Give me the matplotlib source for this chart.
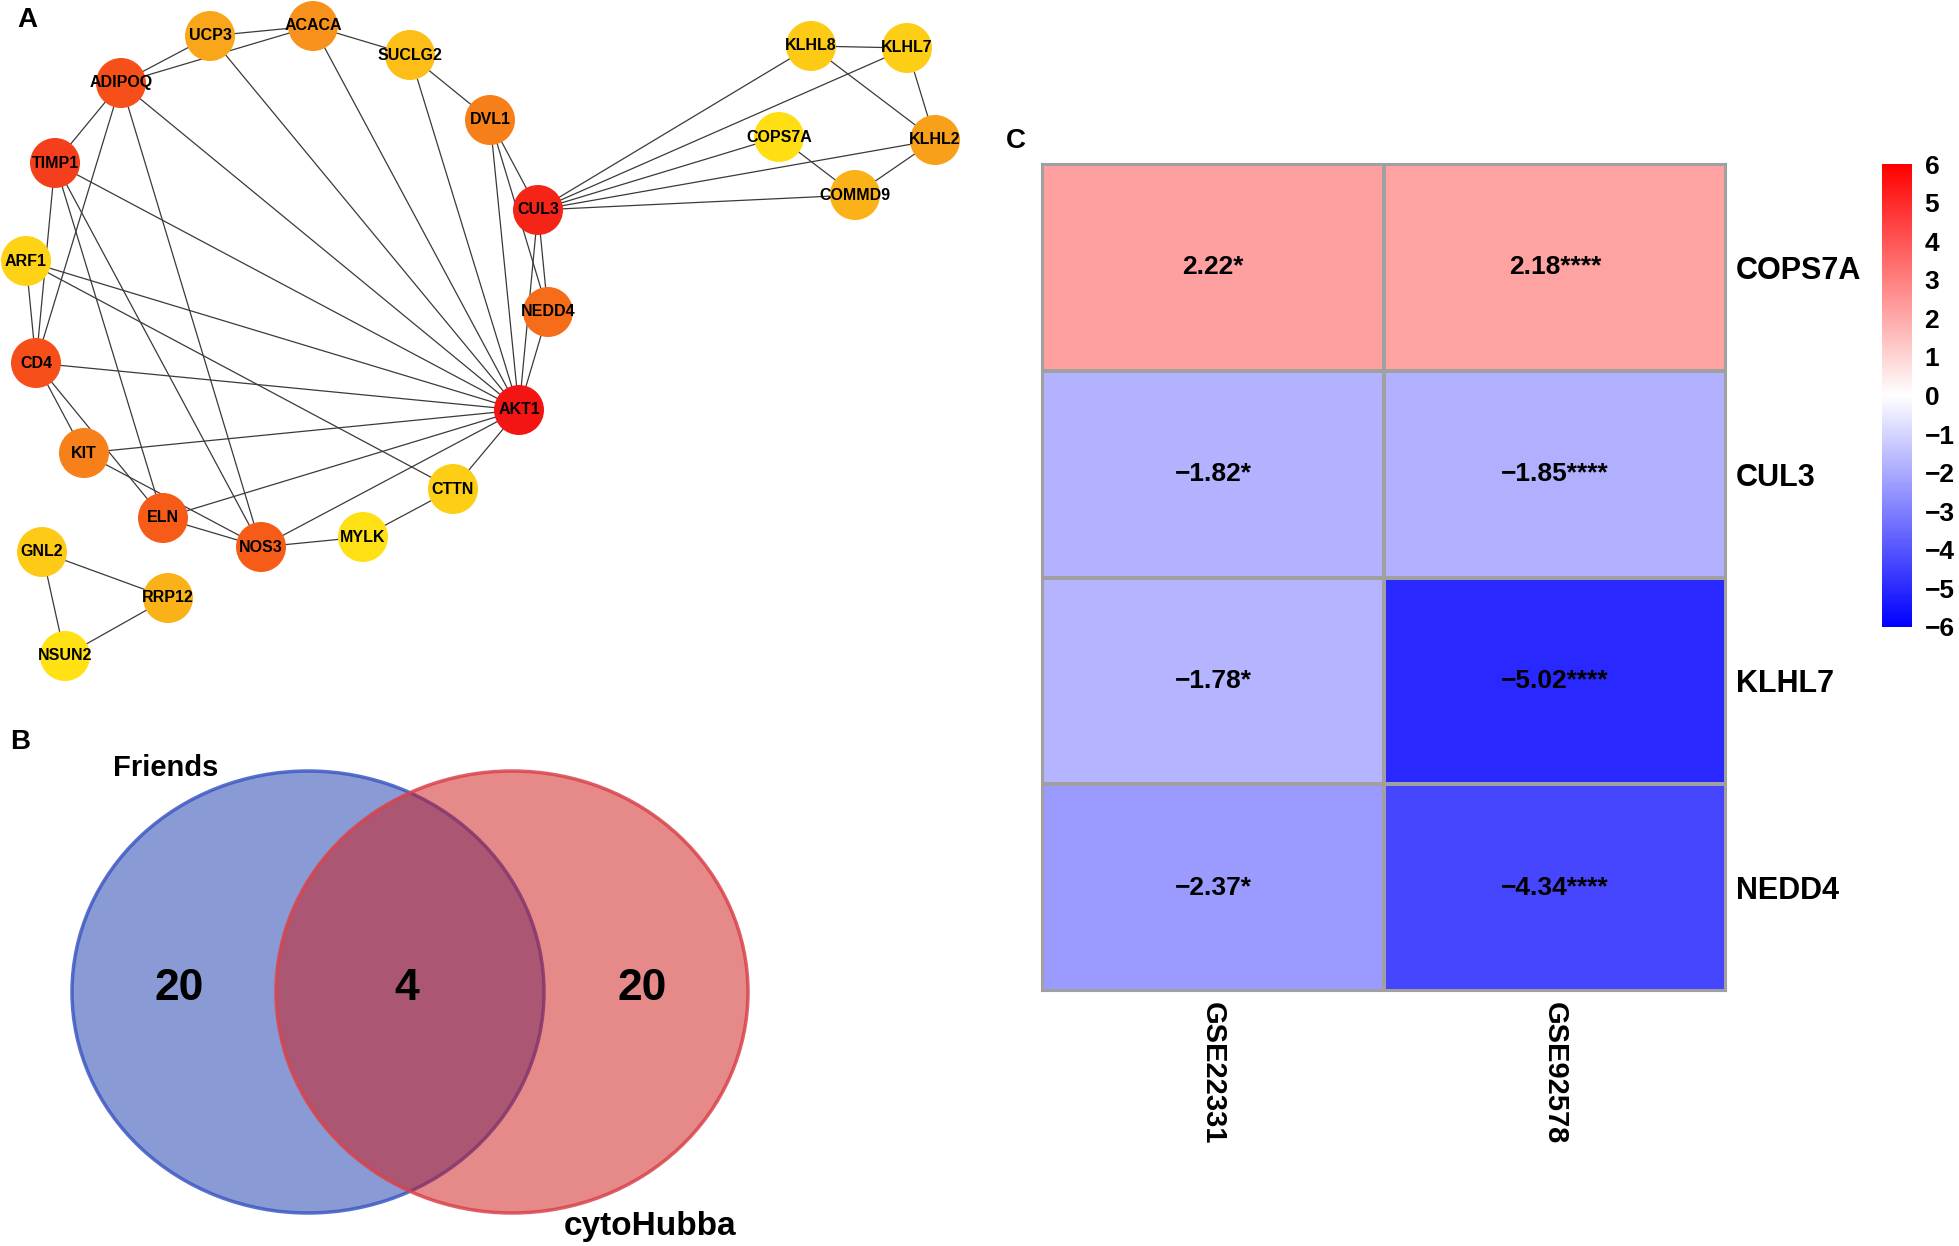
import matplotlib
matplotlib.use("Agg")
import numpy as np
import matplotlib.pyplot as plt
from matplotlib.colors import LinearSegmentedColormap
from matplotlib.patches import Circle, Ellipse

plt.rcParams["font.family"] = ["Liberation Sans", "DejaVu Sans"]
plt.rcParams["font.weight"] = "bold"

# ---- panel A: PPI network (cytoHubba score, 0 = low, 1 = high)
genes = ["UCP3", "ACACA", "SUCLG2", "ADIPOQ", "DVL1", "TIMP1", "CUL3", "ARF1",
         "NEDD4", "CD4", "AKT1", "KIT", "ELN", "NOS3", "MYLK", "CTTN",
         "GNL2", "RRP12", "NSUN2", "KLHL8", "KLHL7", "COPS7A", "KLHL2", "COMMD9"]
scores = [0.42, 0.52, 0.30, 0.84, 0.64, 0.90, 0.96, 0.15,
          0.72, 0.84, 1.00, 0.63, 0.79, 0.79, 0.04, 0.20,
          0.22, 0.36, 0.03, 0.22, 0.20, 0.05, 0.45, 0.36]
edges = [("UCP3", "ACACA"), ("UCP3", "ADIPOQ"), ("ADIPOQ", "ACACA"),
         ("ACACA", "SUCLG2"), ("SUCLG2", "DVL1"), ("UCP3", "AKT1"),
         ("ACACA", "AKT1"), ("SUCLG2", "AKT1"), ("ADIPOQ", "AKT1"),
         ("ADIPOQ", "TIMP1"), ("ADIPOQ", "CD4"), ("ADIPOQ", "NOS3"),
         ("TIMP1", "AKT1"), ("TIMP1", "CD4"), ("TIMP1", "ELN"), ("TIMP1", "NOS3"),
         ("ARF1", "CD4"), ("ARF1", "AKT1"), ("ARF1", "CTTN"),
         ("CD4", "AKT1"), ("CD4", "KIT"), ("CD4", "ELN"),
         ("KIT", "AKT1"), ("KIT", "NOS3"), ("ELN", "AKT1"), ("ELN", "NOS3"),
         ("NOS3", "AKT1"), ("NOS3", "MYLK"), ("MYLK", "CTTN"), ("CTTN", "AKT1"),
         ("DVL1", "CUL3"), ("DVL1", "AKT1"), ("DVL1", "NEDD4"),
         ("CUL3", "NEDD4"), ("CUL3", "AKT1"), ("NEDD4", "AKT1"),
         ("CUL3", "KLHL8"), ("CUL3", "KLHL7"), ("CUL3", "COPS7A"),
         ("CUL3", "KLHL2"), ("CUL3", "COMMD9"),
         ("KLHL8", "KLHL7"), ("KLHL8", "KLHL2"), ("KLHL7", "KLHL2"),
         ("KLHL2", "COMMD9"), ("COPS7A", "COMMD9"),
         ("GNL2", "RRP12"), ("GNL2", "NSUN2"), ("RRP12", "NSUN2")]

# ---- panel B: Venn counts
venn_names = ["Friends", "cytoHubba"]
venn_counts = [20, 4, 20]  # left only, shared, right only

# ---- panel C: heatmap
heat_genes = ["COPS7A", "CUL3", "KLHL7", "NEDD4"]
heat_sets = ["GSE22331", "GSE92578"]
logfc_gse22331 = [2.22, -1.82, -1.78, -2.37]
logfc_gse92578 = [2.18, -1.85, -5.02, -4.34]
stars_gse22331 = ["*", "*", "*", "*"]
stars_gse92578 = ["****", "****", "****", "****"]

# node layout in figure pixels (x, y from top)
layout = {
    "UCP3": (210, 36), "ACACA": (313, 26), "SUCLG2": (410, 55), "ADIPOQ": (121, 83),
    "DVL1": (490, 120), "TIMP1": (55, 163), "CUL3": (538, 210), "ARF1": (26, 261),
    "NEDD4": (548, 312), "CD4": (36, 363), "AKT1": (519, 410), "KIT": (84, 453),
    "ELN": (163, 518), "NOS3": (261, 547), "MYLK": (363, 537), "CTTN": (453, 489),
    "GNL2": (42, 552), "RRP12": (168, 598), "NSUN2": (65, 656),
    "KLHL8": (811, 46), "KLHL7": (907, 48), "COPS7A": (779, 137),
    "KLHL2": (935, 140), "COMMD9": (855, 195),
}

W, H = 1959, 1246
fig = plt.figure(figsize=(W / 100, H / 100), dpi=100)
ax = fig.add_axes([0, 0, 1, 1])
ax.set_xlim(0, W)
ax.set_ylim(H, 0)
ax.axis("off")

node_cmap = LinearSegmentedColormap.from_list(
    "hub", [(0.0, "#FFE414"), (0.25, "#FDC816"), (0.5, "#F8961C"),
            (0.65, "#F77D1A"), (0.8, "#F65A18"), (0.9, "#F5401C"), (1.0, "#F31414")])

for a, b in edges:
    (x1, y1), (x2, y2) = layout[a], layout[b]
    ax.plot([x1, x2], [y1, y2], color="#3a3a3a", lw=0.9, zorder=1)

for g, s in zip(genes, scores):
    x, y = layout[g]
    ax.add_patch(Circle((x, y), 25, facecolor=node_cmap(s), edgecolor="none", zorder=2))
    ax.text(x, y, g, ha="center", va="center", fontsize=11.5, zorder=3)

# Venn
left_c, right_c, rx, ry = (308, 992), (512, 992), 236, 221
ax.add_patch(Ellipse(left_c, 2 * rx, 2 * ry, facecolor="#1537AB", alpha=0.5,
                     edgecolor="none", zorder=1))
ax.add_patch(Ellipse(left_c, 2 * rx, 2 * ry, facecolor="none", edgecolor="#3D58C4",
                     lw=2.5, alpha=0.85, zorder=1))
ax.add_patch(Ellipse(right_c, 2 * rx, 2 * ry, facecolor="#CD1515", alpha=0.5,
                     edgecolor="none", zorder=1))
ax.add_patch(Ellipse(right_c, 2 * rx, 2 * ry, facecolor="none", edgecolor="#D9434B",
                     lw=2.5, alpha=0.85, zorder=1))
for x, n in zip([179, 407, 642], venn_counts):
    ax.text(x, 988, str(n), ha="center", va="center", fontsize=32)
ax.text(166, 768, venn_names[0], ha="center", va="center", fontsize=21)
ax.text(650, 1226, venn_names[1], ha="center", va="center", fontsize=24)

# panel letters
ax.text(27, 20, "A", ha="center", va="center", fontsize=20)
ax.text(20, 742, "B", ha="center", va="center", fontsize=20)
ax.text(1016, 141, "C", ha="center", va="center", fontsize=20)

# heatmap
data = np.array([logfc_gse22331, logfc_gse92578]).T
stars = np.array([stars_gse22331, stars_gse92578]).T
heat_cmap = LinearSegmentedColormap.from_list("bwr2", ["#0000FF", "#FFFFFF", "#FF0000"])
hx0, hx1, hy0, hy1 = 1042, 1726, 164, 991
axh = fig.add_axes([hx0 / W, 1 - hy1 / H, (hx1 - hx0) / W, (hy1 - hy0) / H])
mesh = axh.pcolormesh(data, cmap=heat_cmap, vmin=-6, vmax=6,
                      edgecolors="#A0A0A0", linewidth=1.5)
axh.set_xlim(0, 2)
axh.set_ylim(4, 0)
for sp in axh.spines.values():
    sp.set_color("#A0A0A0")
    sp.set_linewidth(1.5)
for i in range(len(heat_genes)):
    for j in range(len(heat_sets)):
        txt = f"{data[i, j]:.2f}".replace("-", "\u2212") + stars[i, j]
        axh.text(j + 0.5, i + 0.5, txt, ha="center", va="center", fontsize=19)
axh.set_xticks([0.5, 1.5])
axh.set_xticklabels(heat_sets, rotation=270, fontsize=21, va="top")
axh.set_yticks(np.arange(len(heat_genes)) + 0.5)
axh.set_yticklabels(heat_genes, fontsize=22)
axh.yaxis.tick_right()
axh.tick_params(axis="both", length=0)
axh.tick_params(axis="x", pad=8)
axh.tick_params(axis="y", pad=7)

cx0, cx1, cy0, cy1 = 1882, 1912, 164, 627
cax = fig.add_axes([cx0 / W, 1 - cy1 / H, (cx1 - cx0) / W, (cy1 - cy0) / H])
cb = fig.colorbar(mesh, cax=cax, ticks=range(-6, 7))
cb.outline.set_visible(False)
cax.tick_params(length=0, labelsize=19, pad=9)

fig.savefig("out.png", dpi=100)
